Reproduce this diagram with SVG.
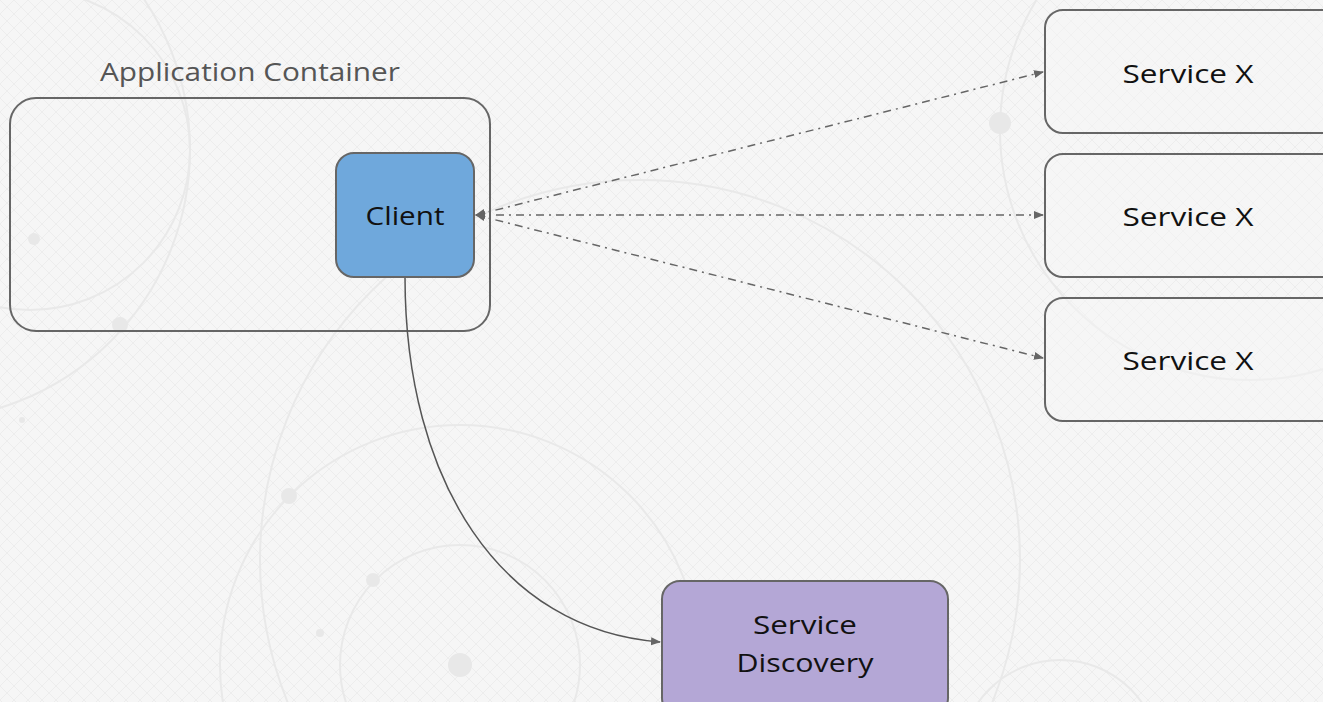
<svg xmlns="http://www.w3.org/2000/svg" width="1323" height="702" viewBox="0 0 1323 702">
<style>
.bgc{fill:none;stroke:#e9e9e9;stroke-width:2}
.dot{fill:#e8e8e8}
.box{stroke:#666;stroke-width:2}
.lbl{font-family:"Open Sans","Liberation Sans",sans-serif;font-size:26px;fill:#111;text-anchor:middle}
.dd{fill:none;stroke:#666;stroke-width:1.5;stroke-dasharray:8 5 2 5}
</style>
<defs>
<pattern id="hatch" width="14" height="14" patternUnits="userSpaceOnUse">
<path d="M0,0 L14,14 M14,0 L0,14" stroke="#ededed" stroke-width="1"/>
</pattern>
<marker id="arr" viewBox="0 0 10 10" refX="9" refY="5" markerWidth="10" markerHeight="10" markerUnits="userSpaceOnUse" orient="auto-start-reverse">
<path d="M0,1 L10,5 L0,9 z" fill="#666"/>
</marker>
</defs>
<g id="background">
<rect width="1323" height="702" fill="#f6f6f6"/>
<rect width="1323" height="702" fill="url(#hatch)"/>
<circle class="bgc" cx="460" cy="665" r="240"/>
<circle class="bgc" cx="460" cy="665" r="120"/>
<circle class="bgc" cx="-80" cy="150" r="270"/>
<circle class="bgc" cx="30" cy="150" r="160"/>
<circle class="bgc" cx="640" cy="560" r="380"/>
<circle class="bgc" cx="1250" cy="130" r="250"/>
<circle class="bgc" cx="1060" cy="760" r="100"/>
<circle class="dot" cx="460" cy="665" r="12"/>
<circle class="dot" cx="373" cy="580" r="7"/>
<circle class="dot" cx="289" cy="496" r="8"/>
<circle class="dot" cx="320" cy="633" r="4"/>
<circle class="dot" cx="34" cy="239" r="6"/>
<circle class="dot" cx="120" cy="325" r="8"/>
<circle class="dot" cx="1000" cy="123" r="11"/>
<circle class="dot" cx="22" cy="420" r="3"/>
</g>
<text x="250" y="81" font-family="Open Sans, Liberation Sans, sans-serif" font-size="26" fill="#555" text-anchor="middle" textLength="300" lengthAdjust="spacingAndGlyphs">Application Container</text>
<g id="app-container">
<rect class="box" x="10" y="98" width="480" height="233" rx="26" fill="none"/>
</g>
<g id="connectors">
<line class="dd" x1="476" y1="215" x2="1043" y2="72" marker-start="url(#arr)" marker-end="url(#arr)"/>
<line class="dd" x1="476" y1="215" x2="1043" y2="215" marker-start="url(#arr)" marker-end="url(#arr)"/>
<line class="dd" x1="476" y1="215" x2="1043" y2="358" marker-start="url(#arr)" marker-end="url(#arr)"/>
<path d="M405,277 C405,480 500,630 660,642" fill="none" stroke="#555" stroke-width="1.5" marker-end="url(#arr)"/>
</g>
<g id="client">
<rect class="box" x="336" y="153" width="138" height="124" rx="18" fill="#6fa8dc"/>
<text class="lbl" x="405" y="225" textLength="79" lengthAdjust="spacingAndGlyphs">Client</text>
</g>
<g id="service-x-1">
<rect class="box" x="1045" y="10" width="300" height="123" rx="18" fill="#f6f6f6" fill-opacity="0.5"/>
<text class="lbl" x="1188" y="83" textLength="131" lengthAdjust="spacingAndGlyphs">Service X</text>
</g>
<g id="service-x-2">
<rect class="box" x="1045" y="154" width="300" height="123" rx="18" fill="#f6f6f6" fill-opacity="0.5"/>
<text class="lbl" x="1188" y="226" textLength="131" lengthAdjust="spacingAndGlyphs">Service X</text>
</g>
<g id="service-x-3">
<rect class="box" x="1045" y="298" width="300" height="123" rx="18" fill="#f6f6f6" fill-opacity="0.5"/>
<text class="lbl" x="1188" y="370" textLength="131" lengthAdjust="spacingAndGlyphs">Service X</text>
</g>
<g id="service-discovery">
<rect class="box" x="662" y="581" width="286" height="135" rx="18" fill="#b4a7d6"/>
<text class="lbl" x="805" y="634" textLength="104" lengthAdjust="spacingAndGlyphs">Service</text>
<text class="lbl" x="805" y="672" textLength="137" lengthAdjust="spacingAndGlyphs">Discovery</text>
</g>
</svg>
